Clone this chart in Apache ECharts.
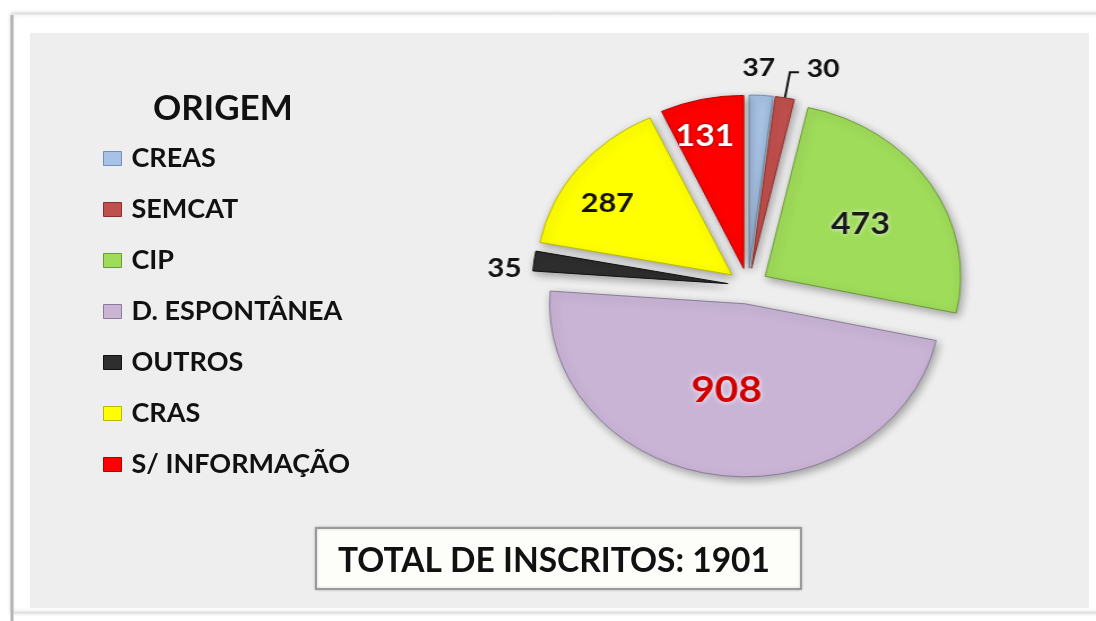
<!DOCTYPE html>
<html>
<head>
<meta charset="utf-8">
<title>Origem dos inscritos</title>
<script src="https://cdn.jsdelivr.net/npm/echarts@6/dist/echarts.min.js"></script>
<style>
  html, body { margin: 0; padding: 0; background: #fff; }
  .wrap { position: relative; width: 1096px; height: 621px; }
  #base, #pie { position: absolute; left: 0; top: 0; width: 1096px; height: 621px; }
  /* a pizza do original é um pouco achatada: estica na horizontal */
  #pie { transform-origin: 748px 286px; transform: scaleX(1.13); }
</style>
</head>
<body>
<div class="wrap">
  <div id="base"></div>
  <div id="pie"></div>
</div>
<script>
// origem dos inscritos - pizza explodida
const categories = ['CREAS', 'SEMCAT', 'CIP', 'D. ESPONTÂNEA', 'OUTROS', 'CRAS', 'S/ INFORMAÇÃO']
const values = [37, 30, 473, 908, 35, 287, 131]
const colors = ['#a7c2e4', '#c0504d', '#9fdc5a', '#c9b4d6', '#2e2e2e', '#ffff00', '#ff0000']
const borders = ['#6f8fb8', '#8c2e2c', '#6a9a32', '#8c7a99', '#111111', '#b8b800', '#b00000']
const total = values.reduce((a, b) => a + b, 0)

const font = 'Lato, "Open Sans", sans-serif'
const stretch = 1.13

// estilo de cada rótulo
const labels = [
  { position: 'outside', color: '#111', fontSize: 25 },
  { position: 'outside', color: '#111', fontSize: 25 },
  { position: 'inside', color: '#1a1a1a', fontSize: 30, textShadowColor: 'rgba(255,255,255,0.8)', textShadowBlur: 4 },
  { position: 'inside', color: '#d00000', fontSize: 36, textShadowColor: '#fff', textShadowBlur: 5 },
  { position: 'outside', color: '#111', fontSize: 26 },
  { position: 'inside', color: '#111', fontSize: 27 },
  { position: 'inside', color: '#fff', fontSize: 30, textShadowColor: 'rgba(0,0,0,0.6)', textShadowBlur: 3 },
]
// ajuste fino dos rótulos, em pixels de tela
const nudges = [[-25, -19], [2, -3], [10, -4], [-4, -2], [2, 9], [-45, -16], [-17, -45]]
const lines = [
  { show: false, length: 8, length2: 0 },
  { show: true, length: 26, length2: 8, lineStyle: { color: '#111', width: 2 } },
  { show: false },
  { show: false },
  { show: false, length: 8, length2: 0 },
  { show: false },
  { show: false },
]

const base = echarts.init(document.getElementById('base'))
base.setOption({
  backgroundColor: '#fff',
  animation: false,
  textStyle: { fontFamily: font },
  graphic: [
    // moldura
    { type: 'rect', z: 0, shape: { x: 12, y: 14, width: 1090, height: 598 },
      style: { fill: '#fff', stroke: '#e2e2e2', lineWidth: 1, shadowColor: 'rgba(0,0,0,0.25)', shadowBlur: 4 } },
    { type: 'line', z: 0, shape: { x1: 12, y1: 15, x2: 12, y2: 621 }, style: { stroke: '#b5b5b5', lineWidth: 3 } },
    { type: 'rect', z: 0, shape: { x: 30, y: 33, width: 1059, height: 575 }, style: { fill: '#eeeeee' } },
    { type: 'text', z: 10, left: 153, top: 91,
      style: { text: 'ORIGEM', fill: '#111', font: 'bold 35px ' + font } },
    // caixa do total
    { type: 'rect', z: 5, shape: { x: 316, y: 528, width: 485, height: 61 },
      style: { fill: '#fdfdf9', stroke: '#9a9a9a', lineWidth: 2, shadowColor: 'rgba(0,0,0,0.2)', shadowBlur: 3 } },
    { type: 'text', z: 10, x: 554, y: 561,
      style: { text: 'TOTAL DE INSCRITOS: ' + total, fill: '#111', font: 'bold 33.5px ' + font,
        textAlign: 'center', textVerticalAlign: 'middle' } },
  ],
  legend: {
    orient: 'vertical',
    left: 103,
    top: 145,
    padding: 0,
    itemWidth: 18,
    itemHeight: 14,
    itemGap: 24,
    icon: 'rect',
    selectedMode: false,
    data: categories.map((name, i) => ({
      name,
      itemStyle: { color: colors[i], borderColor: borders[i], borderWidth: 1 },
    })),
    textStyle: {
      color: '#111',
      fontSize: 27,
      fontWeight: 'bold',
      lineHeight: 26,
      padding: [0, 0, 0, 5],
      fontFamily: font,
    },
  },
  // série vazia só para a legenda ter os nomes
  series: [{ type: 'pie', radius: 0, silent: true, label: { show: false }, data: categories.map((name) => ({ name, value: 0 })) }],
})

const pie = echarts.init(document.getElementById('pie'))
pie.setOption({
  animation: false,
  series: [
    {
      type: 'pie',
      center: [748, 286],
      radius: 173,
      startAngle: 90,
      clockwise: true,
      avoidLabelOverlap: false,
      selectedMode: 'multiple',
      selectedOffset: 18,
      emphasis: { disabled: true },
      itemStyle: {
        borderWidth: 1,
        shadowColor: 'rgba(0,0,0,0.35)',
        shadowBlur: 8,
        shadowOffsetX: 2,
        shadowOffsetY: 3,
      },
      label: {
        fontWeight: 'bold',
        fontFamily: font,
        formatter: '{c}',
      },
      labelLayout: (p) => {
        const n = nudges[p.dataIndex]
        return { dx: n[0] / stretch, dy: n[1] }
      },
      data: categories.map((name, i) => ({
        name,
        value: values[i],
        selected: true,
        itemStyle: { color: colors[i], borderColor: borders[i] },
        label: labels[i],
        labelLine: lines[i],
      })),
    },
  ],
})
</script>
</body>
</html>
